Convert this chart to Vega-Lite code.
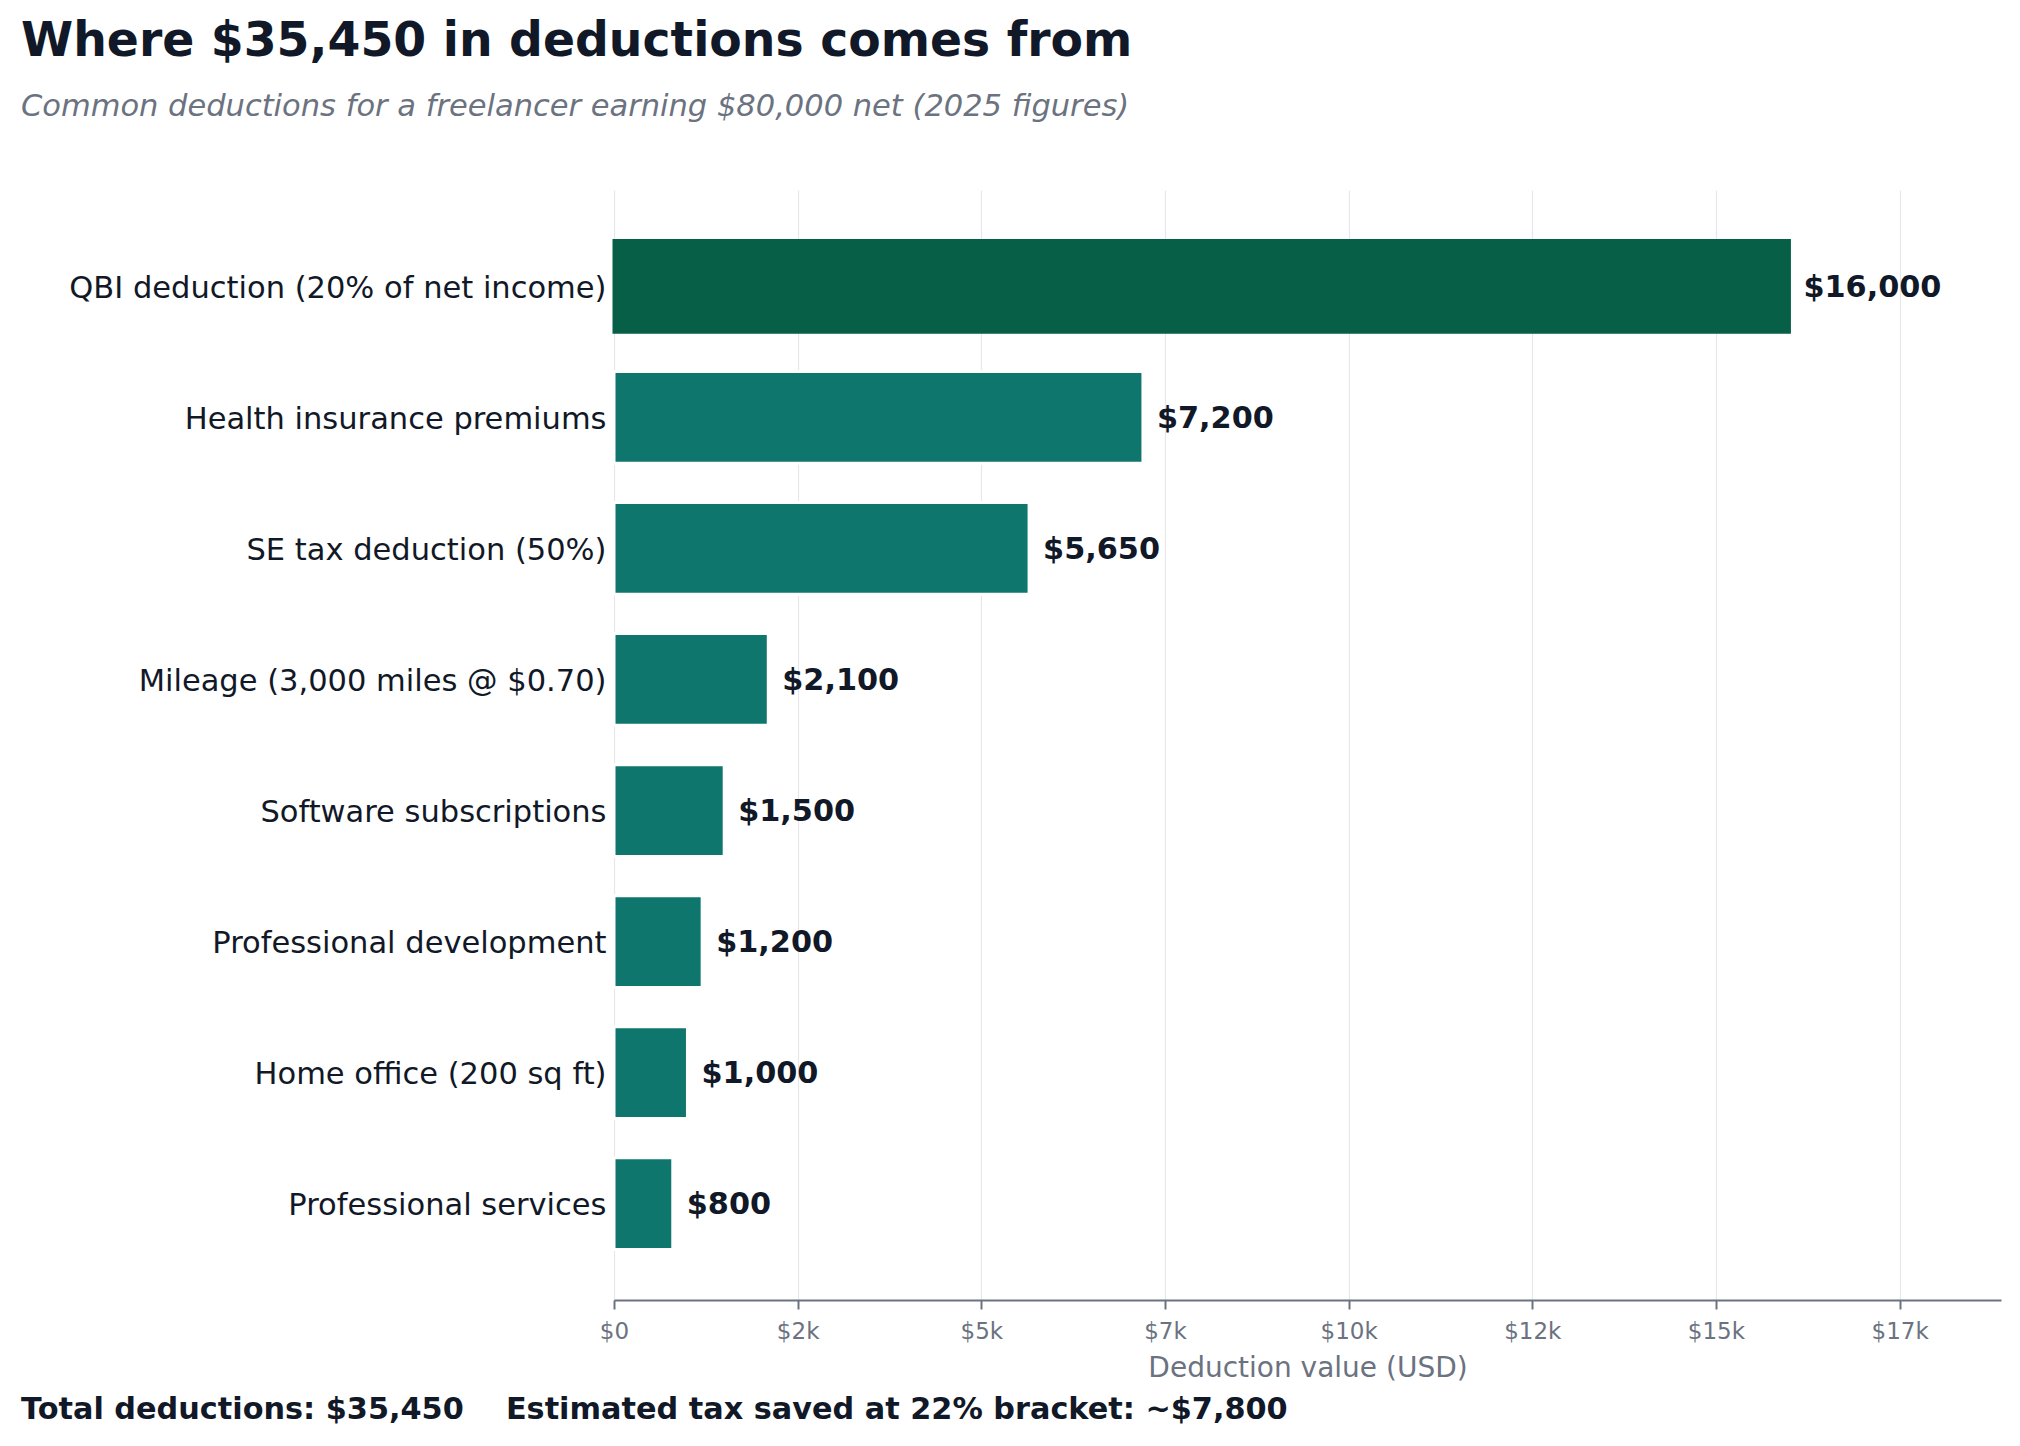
{
  "$schema": "https://vega.github.io/schema/vega-lite/v6.json",
  "background": "white",
  "padding": {"left": 21, "top": 18, "right": 19, "bottom": 0},
  "autosize": {"type": "pad"},
  "title": {
    "text": "Where $35,450 in deductions comes from",
    "subtitle": "Common deductions for a freelancer earning $80,000 net (2025 figures)",
    "anchor": "start",
    "frame": "bounds",
    "font": "DejaVu Sans",
    "fontSize": 47.3,
    "fontWeight": "bold",
    "color": "#111827",
    "subtitleFont": "DejaVu Sans",
    "subtitleFontSize": 30.5,
    "subtitleFontStyle": "italic",
    "subtitleColor": "#6b7280",
    "subtitlePadding": 25,
    "offset": 67
  },
  "vconcat": [
    {
      "width": 1387,
      "height": 1110,
      "title": {
        "text": "Total deductions: $35,450\u00a0\u00a0\u00a0\u00a0Estimated tax saved at 22% bracket: ~$7,800",
        "orient": "bottom",
        "anchor": "start",
        "frame": "bounds",
        "font": "DejaVu Sans",
        "fontSize": 30.3,
        "fontWeight": "bold",
        "color": "#111827",
        "offset": 13
      },
      "data": {
        "values": [
          {"category": "QBI deduction (20% of net income)", "value": 16000, "group": "top"},
          {"category": "Health insurance premiums", "value": 7200, "group": "other"},
          {"category": "SE tax deduction (50%)", "value": 5650, "group": "other"},
          {"category": "Mileage (3,000 miles @ $0.70)", "value": 2100, "group": "other"},
          {"category": "Software subscriptions", "value": 1500, "group": "other"},
          {"category": "Professional development", "value": 1200, "group": "other"},
          {"category": "Home office (200 sq ft)", "value": 1000, "group": "other"},
          {"category": "Professional services", "value": 800, "group": "other"}
        ]
      },
      "encoding": {
        "y": {
          "field": "category",
          "type": "nominal",
          "sort": null,
          "scale": {"paddingInner": 0.3, "paddingOuter": 0.385},
          "axis": {
            "title": null,
            "ticks": false,
            "domain": false,
            "grid": false,
            "labelFont": "DejaVu Sans",
            "labelFontSize": 30.5,
            "labelColor": "#111827",
            "labelPadding": 8,
            "labelOffset": 2.5,
            "labelLimit": 800,
            "minExtent": 593
          }
        },
        "x": {
          "field": "value",
          "type": "quantitative",
          "scale": {"domain": [0, 18880], "nice": false, "zero": true},
          "axis": {
            "title": "Deduction value (USD)",
            "titleFont": "DejaVu Sans",
            "titleFontSize": 28,
            "titleFontWeight": "normal",
            "titleColor": "#6b7280",
            "titlePadding": 11,
            "values": [0, 2500, 5000, 7500, 10000, 12500, 15000, 17500],
            "labelExpr": "datum.value == 0 ? '$0' : '$' + floor(datum.value / 1000) + 'k'",
            "labelFlush": false,
            "labelFont": "DejaVu Sans",
            "labelFontSize": 23,
            "labelColor": "#6b7280",
            "labelPadding": 11,
            "tickSize": 9,
            "tickWidth": 2,
            "tickColor": "#6b7280",
            "domainColor": "#6b7280",
            "domainWidth": 2,
            "grid": true,
            "gridColor": "#e5e7eb",
            "gridWidth": 1.2
          }
        }
      },
      "layer": [
        {
          "mark": {"type": "bar", "strokeWidth": 3},
          "encoding": {
            "color": {
              "field": "group",
              "type": "nominal",
              "scale": {"domain": ["top", "other"], "range": ["#065f46", "#0f766e"]},
              "legend": null
            },
            "stroke": {
              "condition": {"test": "datum.group === 'top'", "value": "#065f46"},
              "value": "#ffffff"
            }
          }
        },
        {
          "mark": {
            "type": "text",
            "align": "left",
            "baseline": "middle",
            "dx": 14,
            "dy": 1.5,
            "font": "DejaVu Sans",
            "fontSize": 30.3,
            "fontWeight": "bold",
            "color": "#111827"
          },
          "encoding": {
            "text": {"field": "value", "type": "quantitative", "format": "$,.0f"}
          }
        }
      ]
    }
  ],
  "config": {
    "view": {"stroke": null},
    "font": "DejaVu Sans"
  }
}
